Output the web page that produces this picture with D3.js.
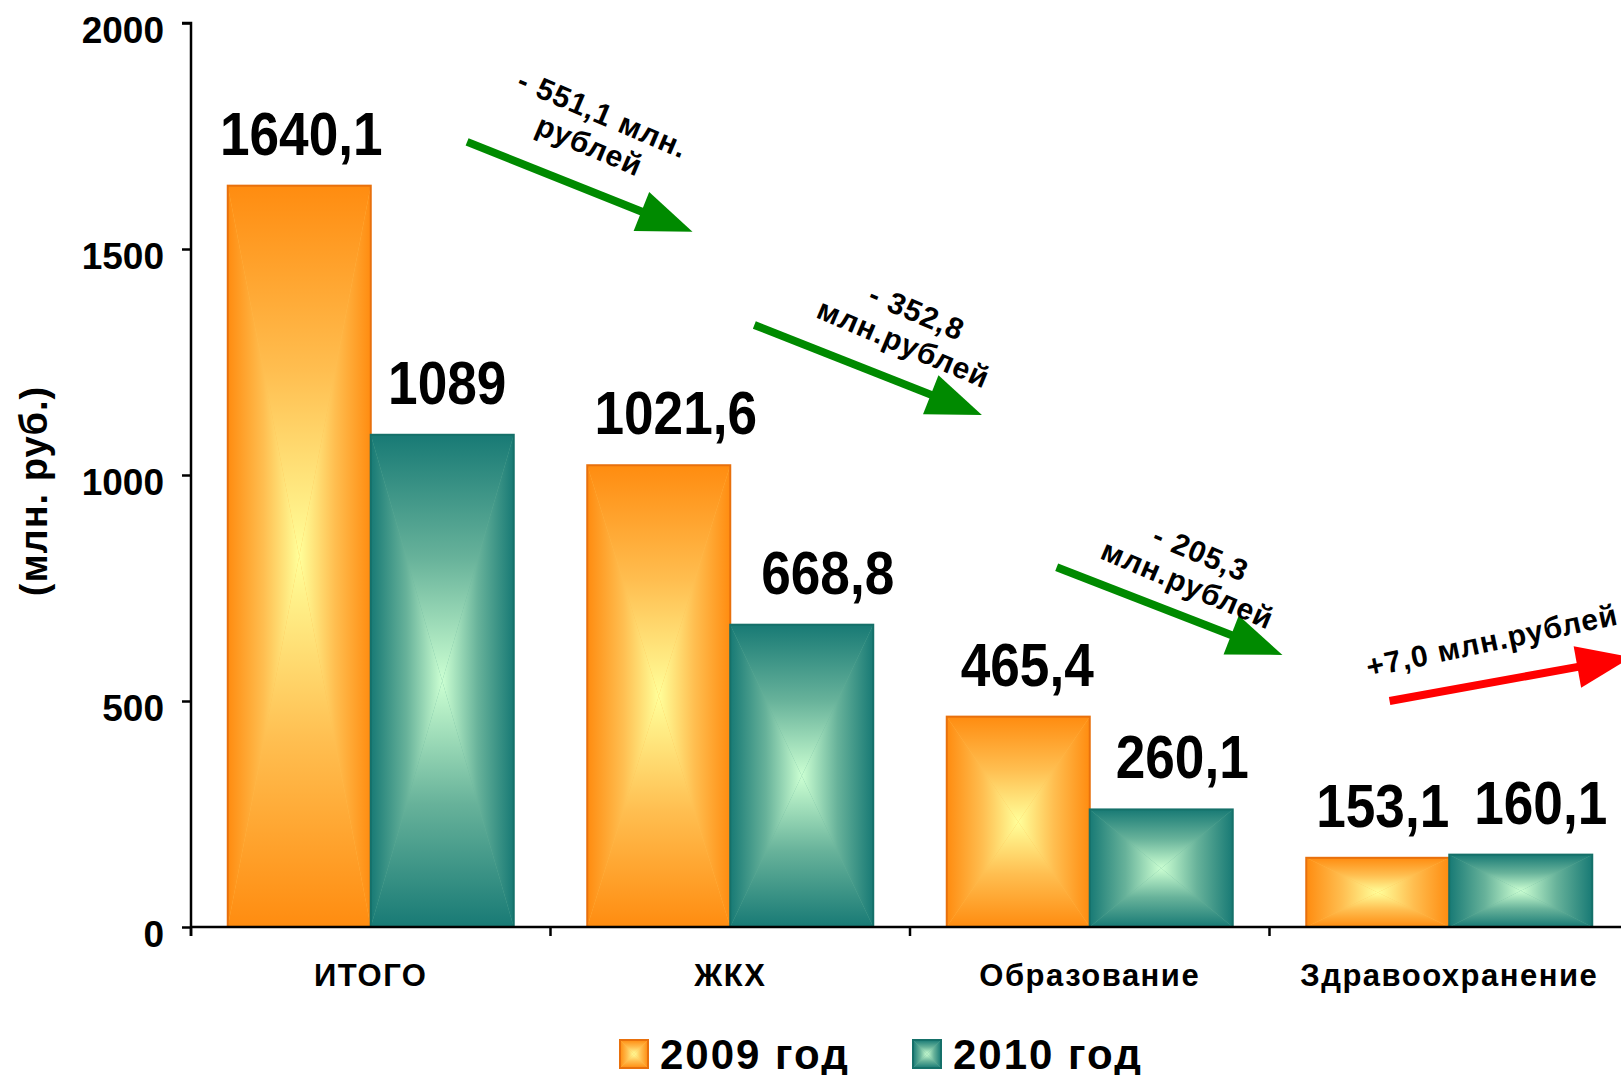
<!DOCTYPE html>
<html>
<head>
<meta charset="utf-8">
<script src="https://cdn.jsdelivr.net/npm/d3@7"></script>
<style>
  html, body { margin: 0; padding: 0; background: #fff; overflow: hidden; }
  svg { display: block; }
  text { font-family: "Liberation Sans", Arial, sans-serif; font-weight: bold; fill: #000; }
</style>
</head>
<body>
<svg id="chart" width="1621" height="1075"></svg>
<script>
// ---------------- DATA ----------------
const categories = ["ИТОГО", "ЖКХ", "Образование", "Здравоохранение"];
const seriesNames = ["2009 год", "2010 год"];
const values2009 = [1640.1, 1021.6, 465.4, 153.1];
const values2010 = [1089, 668.8, 260.1, 160.1];
const yTickValues = [0, 500, 1000, 1500, 2000];
const yAxisTitle = "(млн. руб.)";
const changeLabels = [
  ["- 551,1 млн.", "рублей"],
  ["- 352,8", "млн.рублей"],
  ["- 205,3", "млн.рублей"],
  ["+7,0 млн.рублей"]
];

// ---------------- SETUP ----------------
const svg = d3.select("#chart");
const W = 1621, H = 1075;
svg.append("rect").attr("width", W).attr("height", H).attr("fill", "#fff");

const plotLeft = 191, plotBottom = 927, plotTop = 23;
const bandW = 359.5;

const y = d3.scaleLinear().domain([0, 2000]).range([plotBottom, plotTop]);
const x0 = d3.scaleBand().domain(categories)
  .range([plotLeft, plotLeft + bandW * categories.length]).padding(0);
const x1 = d3.scaleBand().domain(seriesNames)
  .range([0, x0.bandwidth()]).paddingInner(0).paddingOuter(0.257);

const locale = d3.formatLocale({decimal: ",", thousands: " ", grouping: [3]});
const fmt1 = locale.format(".1f");
const fmtVal = v => Number.isInteger(v) ? String(v) : fmt1(v);

// manual nudges of the value labels (layout, px)
const labelNudge = [[2, 26 - 21, 0, 0], [0, 0, 0, 0]];
const labelDx = {"2009 год": [2, 17, 9, 5], "2010 год": [5, 26, 21, 20]};

// ---------------- GRADIENTS ----------------
const defs = svg.append("defs");
const palettes = {
  org: {edge: "#FF8C10", mid: "#FFBE50", center: "#FFFF9A", stroke: "#E8700C"},
  teal: {edge: "#187A75", mid: "#67B29A", center: "#CCFFD2", stroke: "#157069"}
};
const dirs = {t: [0, 0, 0, 1], b: [0, 1, 0, 0], l: [0, 0, 1, 0], r: [1, 0, 0, 0]};
Object.entries(palettes).forEach(([id, p]) => {
  Object.entries(dirs).forEach(([k, d]) => {
    const lg = defs.append("linearGradient").attr("id", id + k)
      .attr("x1", d[0]).attr("y1", d[1]).attr("x2", d[2]).attr("y2", d[3]);
    lg.append("stop").attr("offset", 0).attr("stop-color", p.edge);
    lg.append("stop").attr("offset", 0.5).attr("stop-color", p.mid);
    lg.append("stop").attr("offset", 1).attr("stop-color", p.center);
  });
});

function gradRect(g, bx, by, bw, bh, pal) {
  const p = palettes[pal];
  const cx = bx + bw / 2, cy = by + bh / 2;
  g.append("rect").attr("x", bx).attr("y", by).attr("width", bw).attr("height", bh)
    .attr("fill", p.mid);
  const tris = {
    t: [[bx, by], [bx + bw, by], [cx, cy]],
    b: [[bx, by + bh], [bx + bw, by + bh], [cx, cy]],
    l: [[bx, by], [bx, by + bh], [cx, cy]],
    r: [[bx + bw, by], [bx + bw, by + bh], [cx, cy]]
  };
  Object.entries(tris).forEach(([k, pts]) => {
    g.append("polygon").attr("points", pts.map(q => q.join(",")).join(" "))
      .attr("fill", `url(#${pal}${k})`);
  });
  g.append("rect").attr("x", bx).attr("y", by).attr("width", bw).attr("height", bh)
    .attr("fill", "none").attr("stroke", p.stroke).attr("stroke-width", 2);
}

// ---------------- BARS ----------------
const rows = categories.map((c, i) => ({
  cat: c, idx: i,
  vals: [{s: seriesNames[0], v: values2009[i], pal: "org"},
         {s: seriesNames[1], v: values2010[i], pal: "teal"}]
}));

const barsG = svg.append("g");
rows.forEach(r => {
  r.vals.forEach(d => {
    const bx = x0(r.cat) + x1(d.s);
    const by = y(d.v);
    gradRect(barsG, bx, by, x1.bandwidth(), y(0) - by, d.pal);
    const lx = bx + x1.bandwidth() / 2 + labelDx[d.s][r.idx];
    barsG.append("text")
      .attr("transform", `translate(${lx},${by - 31}) scale(0.95,1.08)`)
      .attr("text-anchor", "middle")
      .attr("font-size", 56)
      .text(fmtVal(d.v));
  });
});

// ---------------- AXES ----------------
const yAxis = d3.axisLeft(y).tickValues(yTickValues).tickSize(9).tickPadding(18)
  .tickFormat(d3.format("d"));
const gy = svg.append("g").attr("transform", `translate(${plotLeft},0)`).call(yAxis);
gy.select(".domain").attr("stroke", "#000").attr("stroke-width", 2.5)
  .attr("d", `M-9,${plotTop}H0V${plotBottom + 9}`);
gy.selectAll(".tick line").attr("stroke", "#000").attr("stroke-width", 2.5);
gy.selectAll(".tick text").attr("font-size", 37).attr("font-family", "Liberation Sans, Arial, sans-serif")
  .attr("font-weight", "bold").attr("dy", "0.71em").attr("y", -7).attr("fill", "#000");

const xAxisG = svg.append("g");
xAxisG.append("line").attr("x1", plotLeft).attr("x2", W).attr("y1", y(0)).attr("y2", y(0))
  .attr("stroke", "#000").attr("stroke-width", 2.5);
categories.forEach(c => {
  xAxisG.append("line").attr("x1", x0(c)).attr("x2", x0(c))
    .attr("y1", y(0)).attr("y2", y(0) + 9).attr("stroke", "#000").attr("stroke-width", 2.5);
  xAxisG.append("text")
    .attr("x", x0(c) + x0.bandwidth() / 2)
    .attr("y", 986)
    .attr("text-anchor", "middle")
    .attr("font-size", 31)
    .attr("letter-spacing", 1.5)
    .text(c);
});

// y axis title
svg.append("text")
  .attr("transform", "translate(47,491) rotate(-90)")
  .attr("text-anchor", "middle")
  .attr("font-size", 38)
  .attr("letter-spacing", 1)
  .text(yAxisTitle);

// ---------------- CHANGE ARROWS ----------------
const bw = x0.bandwidth();
const arrowLayout = [
  {x1: x0(categories[0]) + 0.768 * bw, y1: y(1737), x2: x0(categories[1]) + 0.395 * bw, y2: y(1538),
   tx: 596, ty: 130, rot: 23, color: "#008A00"},
  {x1: x0(categories[1]) + 0.567 * bw, y1: y(1332), x2: x0(categories[2]) + 0.2 * bw, y2: y(1133),
   tx: 910, ty: 328, rot: 23, color: "#008A00"},
  {x1: x0(categories[2]) + 0.408 * bw, y1: y(796), x2: x0(categories[3]) + 0.036 * bw, y2: y(602),
   tx: 1194, ty: 569, rot: 23, color: "#008A00"},
  {x1: x0(categories[3]) + 0.334 * bw, y1: y(500), x2: x0(categories[3]) + 1.007 * bw, y2: y(597),
   tx: 1492, ty: 641, rot: -12, color: "#FF0000"}
];
const arrowsG = svg.append("g");
arrowLayout.forEach((a, i) => {
  const dx = a.x2 - a.x1, dy = a.y2 - a.y1;
  const len = Math.hypot(dx, dy);
  const ux = dx / len, uy = dy / len, nx = -uy, ny = ux;
  const headL = 55, headW = 21;
  const bx = a.x2 - ux * headL, by = a.y2 - uy * headL;
  arrowsG.append("line").attr("x1", a.x1).attr("y1", a.y1).attr("x2", bx + ux * 2).attr("y2", by + uy * 2)
    .attr("stroke", a.color).attr("stroke-width", 8);
  arrowsG.append("polygon")
    .attr("points", [[a.x2, a.y2], [bx + nx * headW, by + ny * headW], [bx - nx * headW, by - ny * headW]]
      .map(q => q.join(",")).join(" "))
    .attr("fill", a.color);
  const lines = changeLabels[i];
  const t = arrowsG.append("text")
    .attr("transform", `translate(${a.tx},${a.ty}) rotate(${a.rot})`)
    .attr("text-anchor", "middle")
    .attr("font-size", 30)
    .attr("letter-spacing", 1);
  const lh = 34;
  lines.forEach((ln, j) => {
    t.append("tspan").attr("x", 0)
      .attr("y", (j - (lines.length - 1) / 2) * lh + 10)
      .text(ln);
  });
});

// ---------------- LEGEND ----------------
const legendG = svg.append("g");
const legendPos = [{sx: 620, tx: 660}, {sx: 913, tx: 953}];
seriesNames.forEach((s, i) => {
  gradRect(legendG, legendPos[i].sx, 1040, 28, 28, i === 0 ? "org" : "teal");
  legendG.append("text").attr("x", legendPos[i].tx).attr("y", 1069)
    .attr("font-size", 42).attr("letter-spacing", 2).text(s);
});
</script>
</body>
</html>
